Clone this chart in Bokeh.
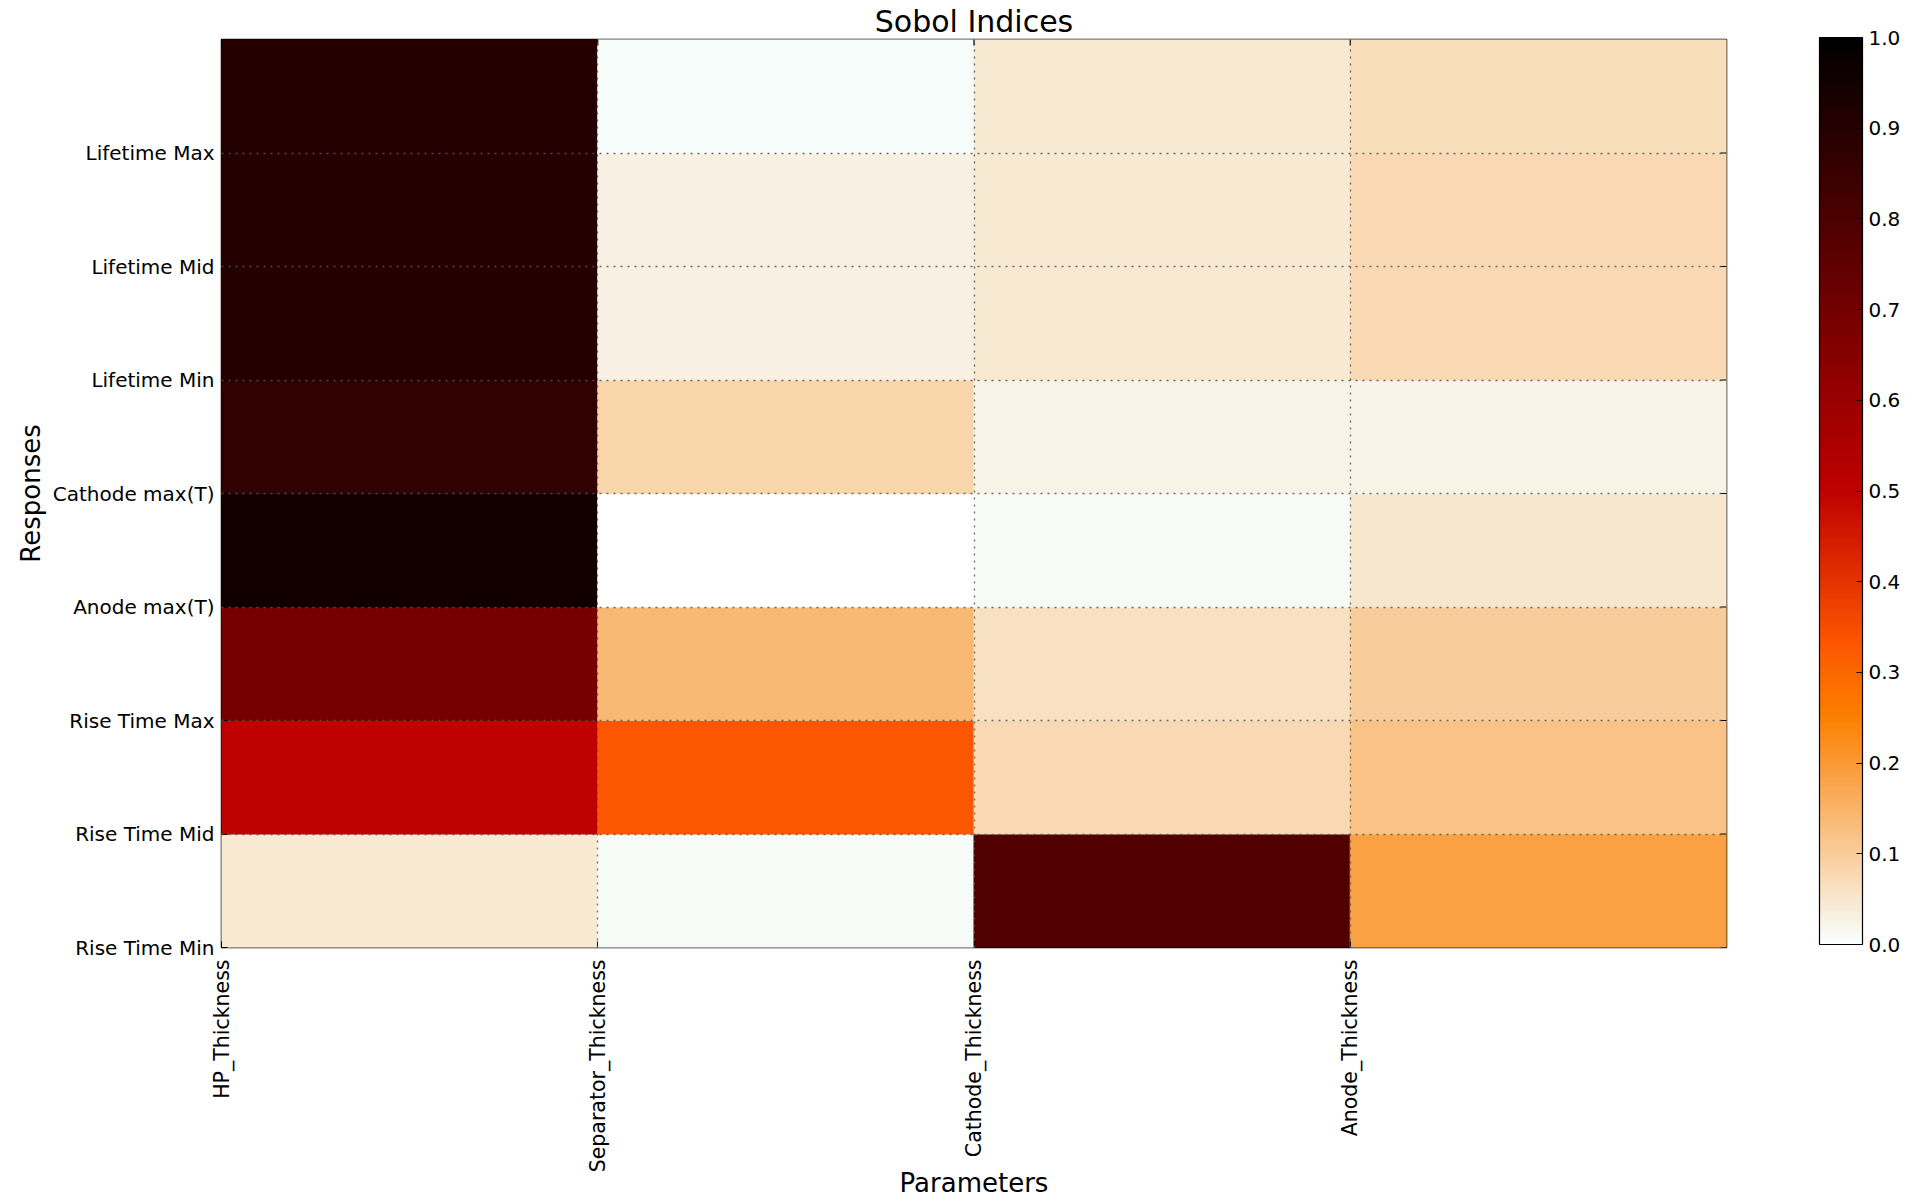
import math
from bokeh.plotting import figure
from bokeh.models import (LinearColorMapper, ColorBar, FixedTicker,
                          PrintfTickFormatter, ColumnDataSource, Range1d)
from bokeh.embed import file_html
from bokeh.resources import INLINE

# ---------------- data ----------------
parameters = ["HP_Thickness", "Separator_Thickness", "Cathode_Thickness", "Anode_Thickness"]
# listed bottom (tick 0) to top (tick 7)
responses = ["Rise Time Min", "Rise Time Mid", "Rise Time Max", "Anode max(T)",
             "Cathode max(T)", "Lifetime Min", "Lifetime Mid", "Lifetime Max"]
hp_thickness = [0.045, 0.50, 0.69, 0.95, 0.87, 0.90, 0.90, 0.90]
separator_thickness = [0.01, 0.33, 0.14, 0.0, 0.085, 0.03, 0.03, 0.005]
cathode_thickness = [0.79, 0.075, 0.06, 0.01, 0.027, 0.045, 0.045, 0.045]
anode_thickness = [0.185, 0.12, 0.10, 0.05, 0.027, 0.075, 0.075, 0.07]
colorbar_ticks = [0.0, 0.1, 0.2, 0.3, 0.4, 0.5, 0.6, 0.7, 0.8, 0.9, 1.0]

title_text = "Sobol Indices"
x_label = "Parameters"
y_label = "Responses"

FONT = "DejaVu Sans"


def gist_heat_r(n=256):
    cols = []
    for i in range(n):
        x = 1.0 - i / (n - 1)
        r = min(1.0, 1.5 * x)
        g = max(0.0, min(1.0, 2 * x - 1))
        b = max(0.0, min(1.0, 4 * x - 3))
        # slight warm-tone shift of the light end, as in the reference image
        rs = (1.0 - 0.03 * g) if i > 0 else 1.0
        cols.append("#%02x%02x%02x" % (round(r * 255 * rs), round(g * 255), round(b * 255)))
    return cols


palette = gist_heat_r(256)
mapper = LinearColorMapper(palette=palette, low=0.0, high=1.0)

columns = [hp_thickness, separator_thickness, cathode_thickness, anode_thickness]
xs, ys, vals = [], [], []
for j, col in enumerate(columns):
    for i, v in enumerate(col):
        xs.append(j + 0.5)
        ys.append(i + 0.5)
        vals.append(v)
src = ColumnDataSource(dict(x=xs, y=ys, val=vals))

n_par = len(parameters)
n_resp = len(responses)

p = figure(width=1919, height=1201,
           x_range=Range1d(0, n_par), y_range=Range1d(0, n_resp),
           output_backend="svg", toolbar_location=None,
           min_border_left=221, min_border_right=193, min_border_top=31,
           min_border_bottom=254)
p.background_fill_color = "white"
p.border_fill_color = "white"
p.outline_line_color = "black"
p.outline_line_width = 1.5

p.rect(x="x", y="y", width=1, height=1, source=src,
       fill_color={"field": "val", "transform": mapper},
       line_color={"field": "val", "transform": mapper}, line_width=1)

# inward tick marks on the right and top edges (half of each dash is clipped away)
p.scatter(x=[n_par] * n_resp, y=list(range(n_resp)), marker="dash", size=12,
          line_color="black", line_width=1.2)
p.scatter(x=list(range(n_par)), y=[n_resp] * n_par, marker="dash", size=12, angle=math.pi / 2,
          line_color="black", line_width=1.2)

p.title.text = title_text
p.title.align = "center"
p.title.text_font = FONT
p.title.text_font_size = "30px"
p.title.text_font_style = "normal"
p.title.text_color = "black"
p.title.standoff = 2

# x axis
p.xaxis.ticker = FixedTicker(ticks=list(range(n_par)))
p.xaxis.major_label_overrides = {i: name for i, name in enumerate(parameters)}
p.xaxis.major_label_orientation = math.pi / 2
p.xaxis.axis_label = x_label
# y axis
p.yaxis.ticker = FixedTicker(ticks=list(range(n_resp)))
p.yaxis.major_label_overrides = {i: name for i, name in enumerate(responses)}
p.yaxis.axis_label = y_label

for ax in (p.xaxis[0], p.yaxis[0]):
    ax.axis_line_color = None
    ax.major_tick_in = 6
    ax.major_tick_out = 0
    ax.minor_tick_line_color = None
    ax.major_tick_line_color = "black"
    ax.major_label_text_font = FONT
    ax.major_label_text_font_size = "20px"
    ax.major_label_text_color = "black"
    ax.axis_label_text_font = FONT
    ax.axis_label_text_font_size = "26px"
    ax.axis_label_text_font_style = "normal"
    ax.axis_label_text_color = "black"
p.xaxis.major_label_text_font_size = "20.5px"
p.xaxis.major_label_standoff = 12
p.xaxis.axis_label_standoff = -7
p.xaxis.axis_label_text_line_height = 1.0
p.yaxis.major_label_standoff = 7
p.yaxis.axis_label_standoff = 4

# grid
p.xgrid.ticker = FixedTicker(ticks=list(range(n_par)))
p.ygrid.ticker = FixedTicker(ticks=list(range(n_resp)))
for g in (p.xgrid[0], p.ygrid[0]):
    g.grid_line_color = "#555555"
    g.grid_line_alpha = 0.85
    g.grid_line_dash = "2 5"
    g.grid_line_width = 1.3
    g.level = "annotation"

color_bar = ColorBar(color_mapper=mapper, location=(1598, 3), width=43, height=907,
                     orientation="vertical", padding=0, margin=0,
                     ticker=FixedTicker(ticks=colorbar_ticks),
                     formatter=PrintfTickFormatter(format="%.1f"),
                     major_label_text_font=FONT, major_label_text_font_size="20px",
                     major_label_text_color="black",
                     major_tick_in=6, major_tick_out=0, major_tick_line_color="black",
                     minor_tick_line_color=None, label_standoff=6,
                     bar_line_color="black", bar_line_width=1.2,
                     background_fill_color=None, border_line_color=None)
p.add_layout(color_bar, "center")

open("out.html", "w").write(file_html(p, INLINE))
